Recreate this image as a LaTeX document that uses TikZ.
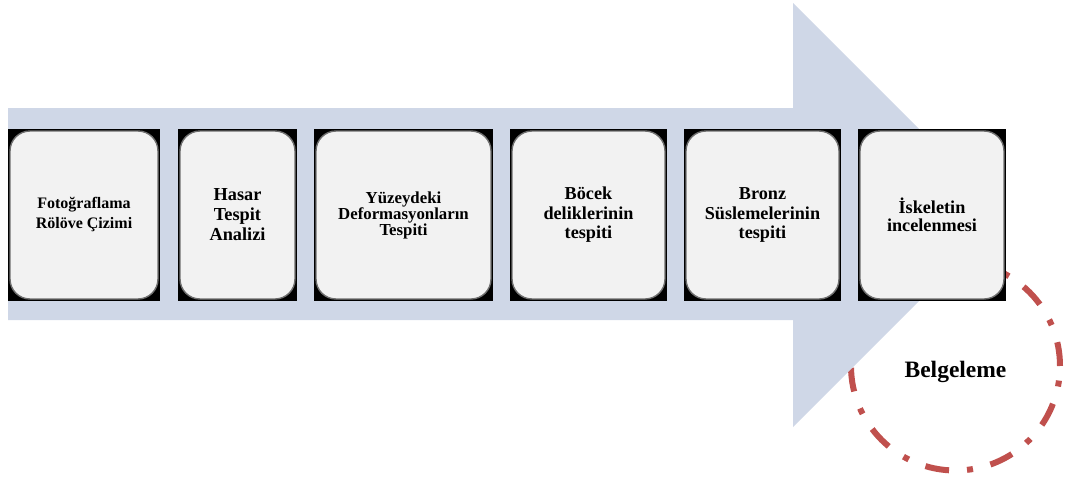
\documentclass[tikz,border=0pt]{standalone}
\usepackage{fontspec}
\setmainfont{Liberation Serif}
\definecolor{arrowblue}{RGB}{207,215,231}
\definecolor{boxfill}{RGB}{242,242,242}
\definecolor{boxedge}{RGB}{110,110,110}
\definecolor{circred}{RGB}{192,80,77}
\tikzset{
  stepbox/.style={fill=black, inner sep=0pt, minimum height=172pt, align=center,
    path picture={\draw[fill=boxfill, draw=boxedge, line width=1.4pt, rounded corners=20pt]
      ([shift={(2pt,-2pt)}]path picture bounding box.north west) rectangle
      ([shift={(-2pt,2pt)}]path picture bounding box.south east);}},
  bigarrow/.style={fill=arrowblue, draw=none},
  belgeleme/.style={circle, draw=circred, line width=6pt, minimum size=209pt, inner sep=0pt,
    dash pattern=on 24pt off 18pt on 6pt off 18pt, font=\fontsize{23.5}{26}\selectfont\bfseries,
    text height=26pt, text depth=4pt}
}
\begin{document}
\begin{tikzpicture}[x=1pt,y=-1pt]
\useasboundingbox (0,0) rectangle (1069,482);
% documentation circle (under the arrow)
\node[belgeleme] (bel) at (955.5,366) {Belgeleme};
% big arrow
\fill[bigarrow] (8,108) -- (793,108) -- (793,3) -- (1005,215) -- (793,427) -- (793,320) -- (8,320) -- cycle;
% steps
\node[stepbox, minimum width=152pt, font=\fontsize{16}{20}\selectfont\bfseries] (b1) at (84,215)
  {Fotoğraflama\\Rölöve Çizimi};
\node[stepbox, minimum width=119pt, font=\fontsize{18.3}{20}\selectfont\bfseries] (b2) at (237.5,215)
  {Hasar\\Tespit\\Analizi};
\node[stepbox, minimum width=179pt, font=\fontsize{16.8}{16}\selectfont\bfseries] (b3) at (403.5,215)
  {Yüzeydeki\\Deformasyonların\\Tespiti};
\node[stepbox, minimum width=157pt, font=\fontsize{18.2}{19.5}\selectfont\bfseries] (b4) at (588.5,215)
  {Böcek\\deliklerinin\\tespiti};
\node[stepbox, minimum width=157pt, font=\fontsize{18.2}{19.5}\selectfont\bfseries] (b5) at (762.5,215)
  {Bronz\\Süslemelerinin\\tespiti};
\node[stepbox, minimum width=148pt, font=\fontsize{18.2}{18.5}\selectfont\bfseries] (b6) at (932,215)
  {İskeletin\\incelenmesi};
\end{tikzpicture}
\end{document}
